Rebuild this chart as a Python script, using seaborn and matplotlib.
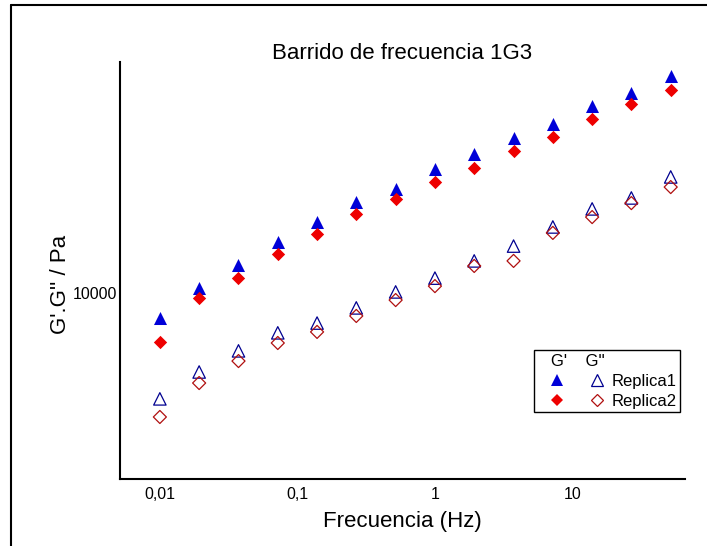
import matplotlib
matplotlib.use("Agg")
import matplotlib.pyplot as plt
import seaborn as sns
import pandas as pd
from matplotlib.lines import Line2D
from matplotlib.legend_handler import HandlerTuple
from matplotlib.ticker import NullLocator, FixedLocator, FixedFormatter

sns.set_style("white")
plt.rcParams['font.family'] = ['Liberation Sans', 'DejaVu Sans']
plt.rcParams['text.color'] = 'black'
plt.rcParams['axes.labelcolor'] = 'black'

# ---- data ----
freq = [0.01, 0.0193, 0.0373, 0.072, 0.139, 0.268, 0.518, 1.0, 1.93, 3.73, 7.2, 13.9, 26.8, 51.8]
g1_r1 = [9110, 10190, 11100, 12090, 13030, 14040, 14730, 15870, 16790, 17810, 18770, 20070, 21070, 22450]
g1_r2 = [8330, 9810, 10570, 11570, 12460, 13420, 14190, 15120, 15940, 16970, 17880, 19120, 20220, 21310]
g2_r1 = [6740, 7450, 8060, 8620, 8940, 9460, 10040, 10570, 11270, 11910, 12790, 13680, 14250, 15410]
g2_r2 = [6300, 7150, 7760, 8300, 8650, 9180, 9740, 10260, 11060, 11270, 12510, 13270, 13980, 14840]
x_ticks = [0.01, 0.1, 1, 10]
x_tick_labels = ["0,01", "0,1", "1", "10"]
y_ticks = [10000]
y_tick_labels = ["10000"]
title = "Barrido de frecuencia 1G3"
x_label = "Frecuencia (Hz)"
y_label = "G'.G'' / Pa"
series_names = ["Replica1", "Replica2"]

df = pd.DataFrame({"freq": freq, "g1_r1": g1_r1, "g1_r2": g1_r2,
                   "g2_r1": g2_r1, "g2_r2": g2_r2})

W, H = 707, 546
fig = plt.figure(figsize=(W / 100, H / 100), dpi=100)
ax = fig.add_axes([120 / W, 1 - 479 / H, 565 / W, 417 / H])

blue = "#0000D8"
red = "#EE0000"
blue_open = "#000090"
red_open = "#B01010"

sns.scatterplot(data=df, x="freq", y="g2_r1", ax=ax, marker="^", s=80,
                facecolor="none", edgecolor=blue_open, linewidth=0.9, zorder=3)
sns.scatterplot(data=df, x="freq", y="g2_r2", ax=ax, marker="D", s=44,
                facecolor="none", edgecolor=red_open, linewidth=0.9, zorder=3)
sns.scatterplot(data=df, x="freq", y="g1_r1", ax=ax, marker="^", s=88,
                color=blue, linewidth=0, zorder=4)
sns.scatterplot(data=df, x="freq", y="g1_r2", ax=ax, marker="D", s=46,
                color=red, linewidth=0, zorder=4)

ax.set_xscale("log")
ax.set_yscale("log")
ax.set_xlim(0.00513, 65.8)
ax.set_ylim(5000, 23650)

ax.xaxis.set_major_locator(FixedLocator(x_ticks))
ax.xaxis.set_major_formatter(FixedFormatter(x_tick_labels))
ax.xaxis.set_minor_locator(NullLocator())
ax.yaxis.set_major_locator(FixedLocator(y_ticks))
ax.yaxis.set_major_formatter(FixedFormatter(y_tick_labels))
ax.yaxis.set_minor_locator(NullLocator())
ax.tick_params(axis="both", length=0, labelsize=11.5, colors="black")
ax.tick_params(axis="x", pad=6)
ax.tick_params(axis="y", pad=2)

for s in ["top", "right"]:
    ax.spines[s].set_visible(False)
for s in ["left", "bottom"]:
    ax.spines[s].set_color("black")
    ax.spines[s].set_linewidth(1.5)

ax.set_title(title, fontsize=16, pad=2, color="black")
ax.set_xlabel(x_label, fontsize=16, labelpad=6)
ax.set_ylabel(y_label, fontsize=16)
ax.yaxis.set_label_coords((71 - 120) / 565, (479 - 284) / 417)

# legend
h_f1 = Line2D([], [], marker="^", color=blue, linestyle="none", markersize=9, markeredgewidth=0)
h_o1 = Line2D([], [], marker="^", markerfacecolor="none", markeredgecolor=blue_open,
              linestyle="none", markersize=8.5, markeredgewidth=0.9)
h_f2 = Line2D([], [], marker="D", color=red, linestyle="none", markersize=6.5, markeredgewidth=0)
h_o2 = Line2D([], [], marker="D", markerfacecolor="none", markeredgecolor=red_open,
              linestyle="none", markersize=6.5, markeredgewidth=0.9)
leg = ax.legend(handles=[(h_f1, h_o1), (h_f2, h_o2)], labels=series_names,
                handler_map={tuple: HandlerTuple(ndivide=None, pad=0.05)},
                title="   G'    G''", title_fontsize=12, alignment="left",
                fontsize=12, handlelength=4.75, handletextpad=-0.28,
                labelspacing=0.3, borderpad=0.2, borderaxespad=0,
                loc="lower right", bbox_to_anchor=(0.991, 0.161),
                frameon=True, fancybox=False, edgecolor="black", framealpha=1)
leg.get_frame().set_linewidth(1.0)

# outer frame lines (top and left)
fig.add_artist(Line2D([11 / W, 1.0], [1 - 5 / H, 1 - 5 / H], color="black", lw=1.5,
                      transform=fig.transFigure))
fig.add_artist(Line2D([11 / W, 11 / W], [1 - 5 / H, 0], color="black", lw=1.5,
                      transform=fig.transFigure))

fig.savefig("out.png", dpi=100)
